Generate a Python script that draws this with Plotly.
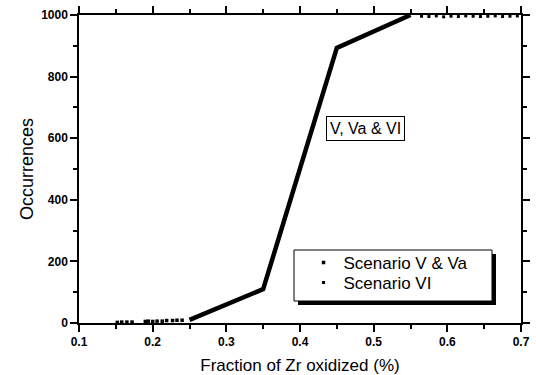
import plotly.graph_objects as go

# Cumulative occurrence curve shared by scenarios V, Va & VI
curve_x = [0.25, 0.35, 0.45, 0.55]
curve_y = [10, 110, 893, 1000]

# Individual runs, Scenario V & Va
v_x = [0.152, 0.158, 0.165, 0.172, 0.190, 0.194, 0.200, 0.206, 0.213, 0.219, 0.227, 0.233, 0.240]
v_y = [2, 3, 3, 3, 5, 6, 5, 6, 6, 8, 8, 9, 9]

# Individual runs, Scenario VI
vi_x = [0.565, 0.575, 0.585, 0.595, 0.605, 0.615, 0.625, 0.635, 0.645, 0.655, 0.665, 0.675, 0.685, 0.695]
vi_y = [996, 995, 997, 994, 996, 995, 997, 996, 995, 996, 997, 995, 996, 997]

x_ticks = [0.1, 0.2, 0.3, 0.4, 0.5, 0.6, 0.7]
y_ticks = [0, 200, 400, 600, 800, 1000]

x_range = [0.1, 0.7]
y_range = [0, 1000]

FONT = "Liberation Sans, Arial, sans-serif"

fig = go.Figure()
fig.add_trace(go.Scatter(x=curve_x, y=curve_y, mode="lines",
                         line=dict(color="black", width=4.5), showlegend=False))
fig.add_trace(go.Scatter(x=v_x, y=v_y, mode="markers", name="Scenario V & Va",
                         marker=dict(symbol="square", size=3.5, color="black"),
                         cliponaxis=False, legend="legend"))
fig.add_trace(go.Scatter(x=vi_x, y=vi_y, mode="markers", name="Scenario VI",
                         marker=dict(symbol="square", size=3, color="black"),
                         cliponaxis=False, legend="legend2"))

axis_common = dict(showline=True, linecolor="#000000", linewidth=1.5, mirror="allticks",
                   showgrid=False, zeroline=False, ticks="outside", ticklen=7,
                   tickwidth=2, tickcolor="#000000")

legend_common = dict(xanchor="left", yanchor="middle", bgcolor="rgba(0,0,0,0)",
                     borderwidth=0, font=dict(size=17, color="black", family=FONT))

fig.update_layout(
    template="none",
    width=536, height=375,
    margin=dict(l=79, r=15, t=15, b=52),
    paper_bgcolor="white", plot_bgcolor="white",
    font=dict(family=FONT, color="black"),
    xaxis=dict(range=x_range, tickvals=x_ticks,
               ticktext=[f"<b>{v:.1f}</b>" for v in x_ticks],
               tickfont=dict(size=12, color="black"),
               minor=dict(dtick=0.05, tick0=0.1, ticks="outside", ticklen=4,
                          tickwidth=2, tickcolor="#000000"),
               title=dict(text="Fraction of Zr oxidized (%)",
                          font=dict(size=17, color="black")),
               **axis_common),
    yaxis=dict(range=y_range, tickvals=y_ticks,
               ticktext=[f"<b>{v}</b>" for v in y_ticks],
               tickfont=dict(size=12, color="black"),
               minor=dict(dtick=100, tick0=0, ticks="outside", ticklen=4,
                          tickwidth=2, tickcolor="#000000"),
               title=dict(text="Occurrences", font=dict(size=18, color="black")),
               **axis_common),
    legend=dict(x=0.508, y=0.195, **legend_common),
    legend2=dict(x=0.508, y=0.130, **legend_common),
    showlegend=True,
)

# Legend frame with drop shadow
fig.add_shape(type="rect", xref="paper", yref="paper", layer="below",
              x0=(298 - 79) / 442, x1=(496 - 79) / 442,
              y0=(323 - 305) / 308, y1=(323 - 254) / 308,
              fillcolor="black", line=dict(width=0))
fig.add_shape(type="rect", xref="paper", yref="paper", layer="below",
              x0=(294 - 79) / 442, x1=(492 - 79) / 442,
              y0=(323 - 301) / 308, y1=(323 - 250) / 308,
              fillcolor="white", line=dict(color="black", width=1))

fig.add_annotation(x=0.489, y=633, xref="x", yref="y", text="V, Va & VI",
                   showarrow=False, font=dict(size=16, family=FONT, color="black"),
                   bgcolor="white", bordercolor="black", borderwidth=1, borderpad=3)

fig.write_html("out.html")
